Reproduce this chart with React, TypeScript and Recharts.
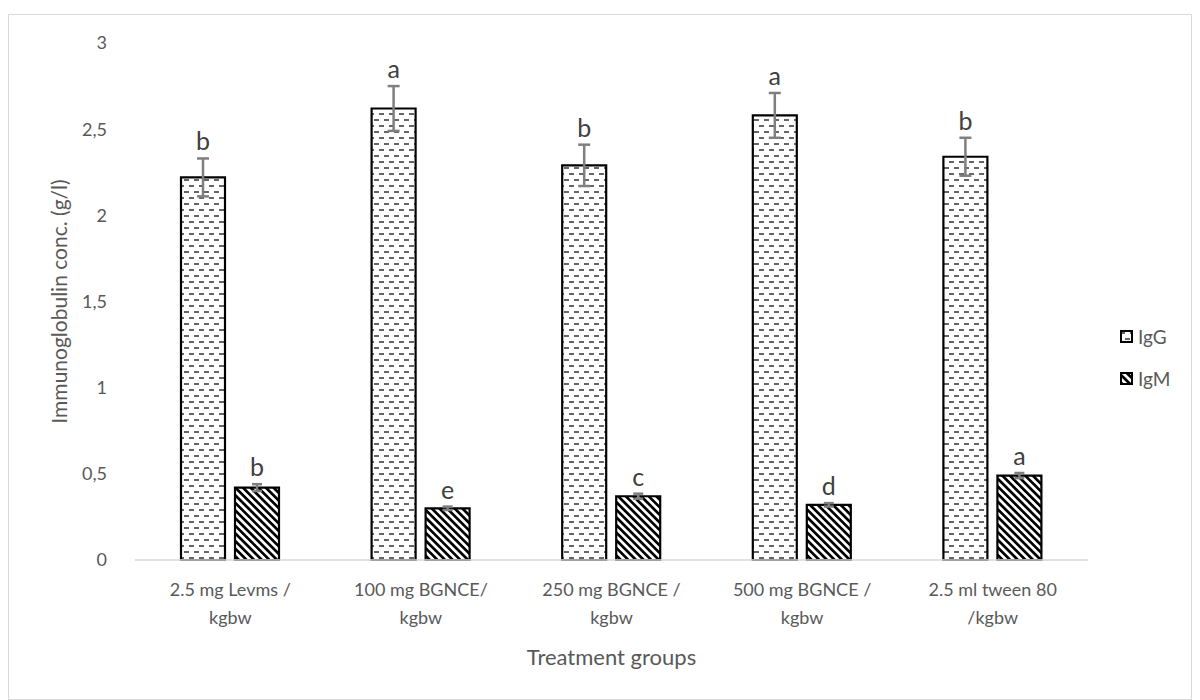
import React from 'react';
import { BarChart, Bar, XAxis, YAxis, ErrorBar, LabelList, Legend } from 'recharts';

const categoryLine1 = ['2.5 mg Levms /', '100 mg BGNCE/', '250 mg BGNCE /', '500 mg BGNCE /', '2.5 ml tween 80'];
const categoryLine2 = ['kgbw', 'kgbw', 'kgbw', 'kgbw', '/kgbw'];
const igG = [2.22, 2.62, 2.29, 2.58, 2.34];
const igGErr = [0.11, 0.13, 0.12, 0.13, 0.11];
const igM = [0.42, 0.3, 0.37, 0.32, 0.49];
const igMErr = [0.02, 0.01, 0.015, 0.01, 0.015];
const igGLetters = ['b', 'a', 'b', 'a', 'b'];
const igMLetters = ['b', 'e', 'c', 'd', 'a'];
const yTicks = [0, 0.5, 1, 1.5, 2, 2.5, 3];

const data = categoryLine1.map((c, i) => ({
  cat: i,
  IgG: igG[i],
  IgGErr: igGErr[i],
  IgGLetter: igGLetters[i],
  IgM: igM[i],
  IgMErr: igMErr[i],
  IgMLetter: igMLetters[i],
}));

const FONT = 'Lato, "Open Sans", sans-serif';
const TEXT = '#595959';

const XTick = (props: any) => {
  const { x, y, payload } = props;
  const i = payload.value;
  return (
    <text x={x} y={y} textAnchor="middle" fill={TEXT} fontFamily={FONT} fontSize={18}>
      <tspan x={x} dy={28}>{categoryLine1[i]}</tspan>
      <tspan x={x} dy={28}>{categoryLine2[i]}</tspan>
    </text>
  );
};

const makeLetter = (values: number[], errs: number[], letters: string[]) => (props: any) => {
  const { x, y, width, height, index } = props;
  const v = values[index];
  const pxPerUnit = Math.abs(height) / v;
  const top = Math.min(y, y + height) - errs[index] * pxPerUnit;
  return (
    <text x={x + width / 2} y={top - 8} textAnchor="middle" fill="#404040" fontFamily={FONT} fontSize={25}>
      {letters[index]}
    </text>
  );
};

const LegendContent = () => (
  <div style={{ paddingLeft: 32, fontFamily: FONT, fontSize: 19, color: TEXT }}>
    {[
      { name: 'IgG', fill: 'url(#patIgG)' },
      { name: 'IgM', fill: 'url(#patIgM)' },
    ].map((it, k) => (
      <div key={it.name} style={{ display: 'flex', alignItems: 'center', height: 22, marginTop: k === 0 ? 0 : 20 }}>
        <svg width={13} height={13} style={{ marginRight: 5 }}>
          <rect x={1} y={1} width={11} height={11} fill={it.fill} stroke="#000" strokeWidth={2} />
        </svg>
        <span>{it.name}</span>
      </div>
    ))}
  </div>
);

export default function App() {
  return (
    <div style={{ paddingTop: 6 }}>
      <div style={{ width: 1184, height: 686, border: '1px solid #d9d9d9', boxSizing: 'border-box', background: '#fff' }}>
        <BarChart
          width={1182}
          height={684}
          data={data}
          margin={{ top: 28, right: 13, left: 0, bottom: 0 }}
          barCategoryGap={46}
          barGap={10}
        >
          <defs>
            <pattern id="patIgG" patternUnits="userSpaceOnUse" width={10} height={12}>
              <rect x={0} y={0} width={10} height={12} fill="#fff" />
              <line x1={0} y1={3} x2={5} y2={3} stroke="#333" strokeWidth={1.5} />
              <line x1={5} y1={9} x2={10} y2={9} stroke="#333" strokeWidth={1.5} />
            </pattern>
            <pattern id="patIgM" patternUnits="userSpaceOnUse" width={10} height={5.4} patternTransform="rotate(45)">
              <rect x={0} y={0} width={10} height={5.4} fill="#fff" />
              <rect x={0} y={0} width={10} height={2.7} fill="#000" />
            </pattern>
          </defs>
          <XAxis
            dataKey="cat"
            height={139}
            tick={<XTick />}
            tickLine={false}
            axisLine={{ stroke: '#d9d9d9', strokeWidth: 1.5 }}
            interval={0}
            label={{ value: 'Treatment groups', position: 'insideBottom', offset: 34, fill: TEXT, fontSize: 22, fontFamily: FONT }}
          />
          <YAxis
            width={126}
            domain={[0, 3]}
            ticks={yTicks}
            tickFormatter={(v: number) => String(v).replace('.', ',')}
            tick={{ fill: TEXT, fontSize: 18, fontFamily: FONT }}
            tickLine={false}
            axisLine={false}
            tickMargin={22}
            label={{ value: 'Immunoglobulin conc. (g/l)', angle: -90, position: 'insideLeft', offset: 51, fill: TEXT, fontSize: 21, fontFamily: FONT, style: { textAnchor: 'middle' } }}
          />
          <Legend layout="vertical" align="right" verticalAlign="middle" wrapperStyle={{ width: 90 }} content={<LegendContent />} />
          <Bar dataKey="IgG" name="IgG" fill="url(#patIgG)" stroke="#000" strokeWidth={2.2} isAnimationActive={false}>
            <ErrorBar dataKey="IgGErr" stroke="#7f7f7f" strokeWidth={2.5} width={6} />
            <LabelList dataKey="IgGLetter" content={makeLetter(igG, igGErr, igGLetters)} />
          </Bar>
          <Bar dataKey="IgM" name="IgM" fill="url(#patIgM)" stroke="#000" strokeWidth={2.2} isAnimationActive={false}>
            <ErrorBar dataKey="IgMErr" stroke="#7f7f7f" strokeWidth={2.5} width={5} />
            <LabelList dataKey="IgMLetter" content={makeLetter(igM, igMErr, igMLetters)} />
          </Bar>
        </BarChart>
      </div>
    </div>
  );
}
